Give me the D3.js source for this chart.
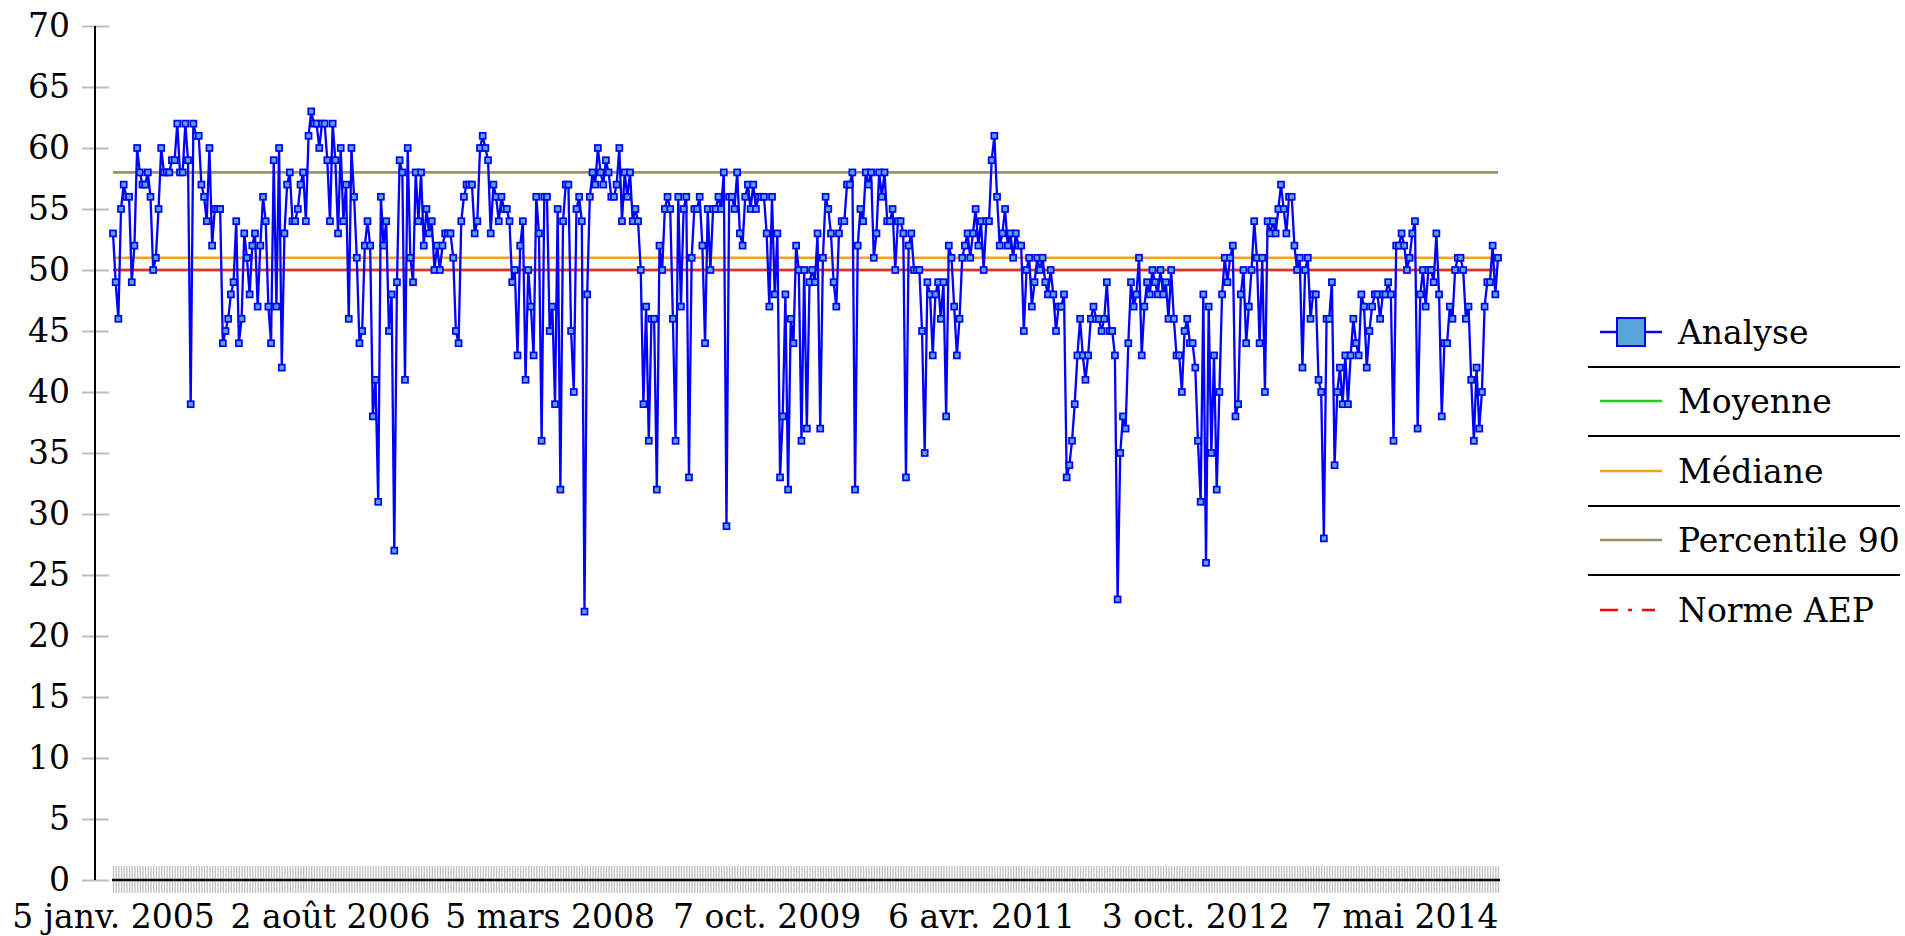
<!DOCTYPE html>
<html>
<head>
<meta charset="utf-8">
<script src="https://cdn.jsdelivr.net/npm/d3@7"></script>
<style>
  body { margin: 0; background: #fff; }
  text { font-family: "DejaVu Serif", serif; fill: #000; }
</style>
</head>
<body>
<svg id="chart" width="1905" height="936"></svg>
<script>
(() => {
    // Analyse values in sequence
    const analyse = [
        53,49,46,55,57,56,56,49,52,60, 58,57,57,58,56,50,51,55,60,58,
        58,58,59,59,62,58,58,62,59,39, 62,61,61,57,56,54,60,52,55,55,
        55,44,45,46,48,49,54,44,46,53, 51,48,52,53,47,52,56,54,47,44,
        59,47,60,
        42,53,57,58,54,54,55,57,58,54, 61,63,62,62,60,62,62,59,54,62,
        59,53,60,54,57,46,60,56,51,44, 45,52,54,52,38,41,31,56,52,54,
        45,48,27,49,59,58,41,60,51,49, 58,54,58,52,55,53,54,50,52,50,
        52,53,53,53,51,45,44,54,
        56,57,57,57,53,54,60,61,60,59, 53,57,56,54,56,55,55,54,49,50,
        43,52,54,41,50,47,43,56,53,36, 56,56,45,47,39,55,32,54,57,57,
        45,40,55,56,54,22,48,56,58,57, 60,58,57,59,58,56,56,57,60,54,
        58,56,58,54,55,
        54,50,39,47,36,46,46,32,52,50, 55,56,55,46,36,56,47,55,56,
        33,51,55,55,56,52,44,55,50,55, 55,56,55,58,29,56,56,55,58,53,
        52,56,57,55,57,55,56,56,56,53, 47,56,48,53,33,38,48,32,46,44,
        52,50,36,50,37,49,
        50,49,53,37,51,56,55,53,49, 47,53,54,54,57,57,58,32,52,55,
        54,58,57,58,51,53,58,56,58,54, 54,55,50,54,54,53,33,52,53,50,
        50,50,45,35,49,48,43,48,49,46, 49,38,52,51,47,43,46,51,52,53,
        51,53,55,52,54,50,
        54,54,59,61,56,52,53,55,52,53, 51,53,52,52,45,50,51,47,49,51,
        50,51,49,48,50,48,45,47,47,48, 33,34,36,39,43,46,43,41,43,46,
        47,46,46,45,46,49,45,45,43,23, 35,38,37,44,49,47,48,51,43,47,
        49,48,50,49,48,50,48,49,
        46,50,46,43,43,40,45,46,44,44, 42,36,31,48,26,47,35,43,32,40,
        48,51,49,51,52,38,39,48,50,44, 47,50,54,51,44,51,40,54,53,54,
        53,55,57,55,53,56,56,52,50,51, 42,50,51,46,48,48,41,40,28,46,
        46,49,34,
        40,42,39,43,39,43,46,44,43,48, 47,42,45,47,48,48,46,48,48,49,
        48,36,52,52,53,52,50,51,53,54, 37,48,50,47,50,50,49,53,48,38,
        44,44,47,46,50,51,51,50,46,47, 41,36,42,37,40,47,49,49,52,48,
        51
    ];

    const xLabels = ["5 janv. 2005", "2 août 2006", "5 mars 2008", "7 oct. 2009",
                     "6 avr. 2011", "3 oct. 2012", "7 mai 2014"];
    const xLabelIdx = [0, 81, 163, 244, 324, 404, 482];
    const yTicks = [0, 5, 10, 15, 20, 25, 30, 35, 40, 45, 50, 55, 60, 65, 70];

    // reference lines
    const refNames = ["Moyenne", "Médiane", "Percentile 90", "Norme AEP"];
    const refValues = [50, 51, 58, 50];
    const refColors = ["#22cc22", "#ffa01c", "#9a9466", "#e8302a"];

    const svg = d3.select("#chart");
    const fontSize = 33;

    const x = d3.scaleLinear().domain([0, analyse.length - 1]).range([113, 1498]);
    const y = d3.scaleLinear().domain([0, 70]).range([880, 26]);

    // per-sample ticks forming the grey band under the x axis
    svg.append("g")
        .attr("transform", `translate(0,${y(0)})`)
        .call(d3.axisBottom(x).tickValues(d3.range(analyse.length)).tickSize(13).tickFormat(""))
        .call(g => g.select(".domain").remove())
        .call(g => g.selectAll(".tick line")
            .attr("y1", -14).attr("y2", 13)
            .attr("stroke", "#c4c4c4").attr("stroke-width", 1.4));

    svg.append("line")
        .attr("x1", 112).attr("x2", 1500)
        .attr("y1", y(0)).attr("y2", y(0))
        .attr("stroke", "#000").attr("stroke-width", 2.5);

    // x labels
    svg.append("g")
        .attr("transform", `translate(0,${y(0)})`)
        .call(d3.axisBottom(x).tickValues(xLabelIdx).tickSize(0).tickPadding(25)
            .tickFormat((d, i) => xLabels[i]))
        .call(g => g.select(".domain").remove())
        .call(g => g.selectAll("text")
            .attr("font-size", fontSize)
            .attr("font-family", "DejaVu Serif")
            .attr("fill", "#000"));

    // y axis
    svg.append("g")
        .attr("transform", `translate(95,0)`)
        .call(d3.axisLeft(y).tickValues(yTicks).tickSize(13).tickPadding(12))
        .call(g => g.select(".domain").remove())
        .call(g => g.selectAll(".tick line")
            .attr("x1", -13).attr("x2", 14)
            .attr("stroke", "#bdbdbd").attr("stroke-width", 2))
        .call(g => g.selectAll("text")
            .attr("font-size", fontSize)
            .attr("font-family", "DejaVu Serif")
            .attr("fill", "#000"));

    svg.append("line")
        .attr("x1", 95).attr("x2", 95)
        .attr("y1", y(70)).attr("y2", y(0))
        .attr("stroke", "#000").attr("stroke-width", 2);

    // reference lines
    svg.append("g").selectAll("line")
        .data(refValues)
        .join("line")
        .attr("x1", x(0)).attr("x2", x(analyse.length - 1))
        .attr("y1", d => y(d)).attr("y2", d => y(d))
        .attr("stroke", (d, i) => refColors[i])
        .attr("stroke-width", 2.6);

    // analyse series
    const line = d3.line()
        .x((d, i) => x(i))
        .y(d => y(d));

    svg.append("path")
        .datum(analyse)
        .attr("d", line)
        .attr("fill", "none")
        .attr("stroke", "#0000ff")
        .attr("stroke-width", 2.3)
        .attr("stroke-linejoin", "round");

    svg.append("g").selectAll("rect")
        .data(analyse)
        .join("rect")
        .attr("x", (d, i) => x(i) - 3)
        .attr("y", d => y(d) - 3)
        .attr("width", 6)
        .attr("height", 6)
        .attr("fill", "#56a6dc")
        .attr("stroke", "#0000ff")
        .attr("stroke-width", 1.7);

    // legend
    const legend = svg.append("g");
    const rowY = [332, 401, 471, 540, 610];
    const names = ["Analyse"].concat(refNames);

    legend.selectAll("text")
        .data(names)
        .join("text")
        .attr("x", 1678)
        .attr("y", (d, i) => rowY[i])
        .attr("dy", "0.36em")
        .attr("font-size", fontSize)
        .text(d => d);

    legend.append("line")
        .attr("x1", 1600).attr("x2", 1662)
        .attr("y1", rowY[0]).attr("y2", rowY[0])
        .attr("stroke", "#0000ff").attr("stroke-width", 2.5);
    legend.append("rect")
        .attr("x", 1617).attr("y", rowY[0] - 14)
        .attr("width", 28).attr("height", 28)
        .attr("fill", "#56a6dc")
        .attr("stroke", "#0000ff").attr("stroke-width", 2);

    legend.selectAll(".sym")
        .data(refColors)
        .join("line")
        .attr("class", "sym")
        .attr("x1", 1600)
        .attr("x2", (d, i) => i === 3 ? 1655 : 1662)
        .attr("y1", (d, i) => rowY[i + 1])
        .attr("y2", (d, i) => rowY[i + 1])
        .attr("stroke", d => d === "#e8302a" ? "#ff0000" : d)
        .attr("stroke-width", 2.5)
        .attr("stroke-dasharray", (d, i) => i === 3 ? "18,10,4,10" : null);

    legend.selectAll(".sep")
        .data([367, 436, 506, 575])
        .join("line")
        .attr("class", "sep")
        .attr("x1", 1588).attr("x2", 1900)
        .attr("y1", d => d).attr("y2", d => d)
        .attr("stroke", "#000").attr("stroke-width", 2);
})();
</script>
</body>
</html>
